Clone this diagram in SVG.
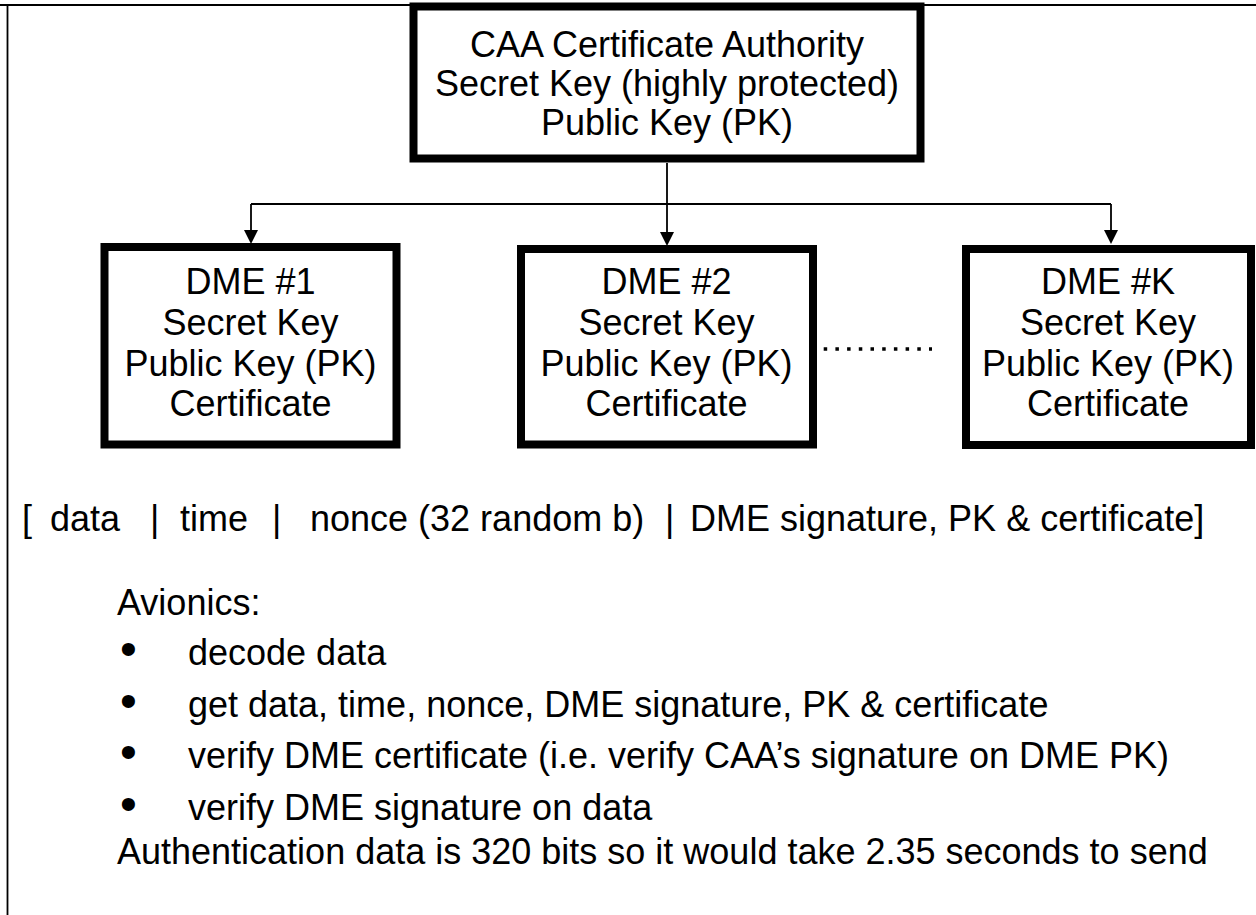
<svg xmlns="http://www.w3.org/2000/svg" width="1256" height="915" viewBox="0 0 1256 915">
<style>
.box{fill:#fff;stroke:#000;stroke-width:8}
.t{font-family:"Liberation Sans",Arial,sans-serif;font-size:36px;fill:#000}
.c{text-anchor:middle}
.b{font-family:"Liberation Sans",Arial,sans-serif;font-size:48px;fill:#000}
.ln{fill:none;stroke:#000;stroke-width:1.8}
</style>
<rect width="1256" height="915" fill="#fff"/>
<g id="frame">
<line class="ln" x1="0" y1="5" x2="1256" y2="5" stroke-width="2"/>
<line class="ln" x1="7.5" y1="5" x2="7.5" y2="915" stroke-width="2"/>
</g>
<g id="connectors">
<path class="ln" d="M667,163 V204 M251,204 H1111"/>
<path class="ln" d="M251,204 V231"/>
<path d="M244,230 L258,230 L251,244 Z"/>
<path class="ln" d="M667,204 V233"/>
<path d="M660,232 L674,232 L667,246 Z"/>
<path class="ln" d="M1111,204 V231"/>
<path d="M1104,230 L1118,230 L1111,244 Z"/>
<line x1="812" y1="349" x2="932" y2="349" stroke="#000" stroke-width="3.5" stroke-dasharray="3.5 8.2"/>
</g>
<g id="caa">
<rect class="box" x="413.5" y="6.5" width="507" height="152" stroke-width="9"/>
<text class="t c" x="667" y="57">CAA Certificate Authority</text>
<text class="t c" x="667" y="96">Secret Key (highly protected)</text>
<text class="t c" x="667" y="135">Public Key (PK)</text>
</g>
<g id="dme1">
<rect class="box" x="104.5" y="247" width="292" height="197.5"/>
<text class="t c" x="250.5" y="294">DME #1</text>
<text class="t c" x="250.5" y="335">Secret Key</text>
<text class="t c" x="250.5" y="376">Public Key (PK)</text>
<text class="t c" x="250.5" y="416">Certificate</text>
</g>
<g id="dme2">
<rect class="box" x="521" y="249" width="292" height="195.5"/>
<text class="t c" x="666.5" y="294">DME #2</text>
<text class="t c" x="666.5" y="335">Secret Key</text>
<text class="t c" x="666.5" y="376">Public Key (PK)</text>
<text class="t c" x="666.5" y="416">Certificate</text>
</g>
<g id="dmek">
<rect class="box" x="966" y="249" width="285" height="196"/>
<text class="t c" x="1108" y="294">DME #K</text>
<text class="t c" x="1108" y="335">Secret Key</text>
<text class="t c" x="1108" y="376">Public Key (PK)</text>
<text class="t c" x="1108" y="416">Certificate</text>
</g>
<g id="message">
<text class="t" y="531"><tspan x="22">[</tspan><tspan x="50">data</tspan><tspan x="150">|</tspan><tspan x="180">time</tspan><tspan x="272">|</tspan><tspan x="310">nonce (32 random b)</tspan><tspan x="665">|</tspan><tspan x="690">DME signature, PK &amp; certificate]</tspan></text>
</g>
<g id="avionics">
<text class="t" x="117" y="615">Avionics:</text>
<text class="b" x="120" y="665">•</text>
<text class="t" x="188" y="665">decode data</text>
<text class="b" x="120" y="717">•</text>
<text class="t" x="188" y="717">get data, time, nonce, DME signature, PK &amp; certificate</text>
<text class="b" x="120" y="768">•</text>
<text class="t" x="188" y="768">verify DME certificate (i.e. verify CAA’s signature on DME PK)</text>
<text class="b" x="120" y="820">•</text>
<text class="t" x="188" y="820">verify DME signature on data</text>
<text class="t" x="117" y="864">Authentication data is 320 bits so it would take 2.35 seconds to send</text>
</g>
</svg>
